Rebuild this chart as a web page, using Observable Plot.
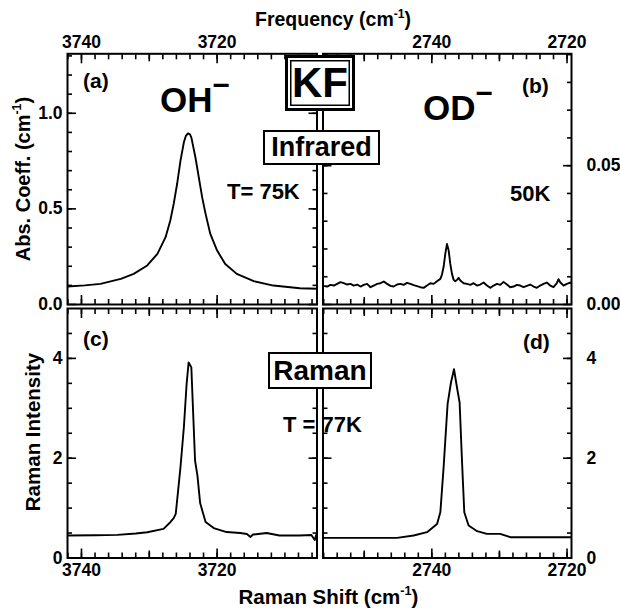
<!DOCTYPE html>
<html><head><meta charset="utf-8">
<script src="https://cdn.jsdelivr.net/npm/d3@7"></script>
<script src="https://cdn.jsdelivr.net/npm/@observablehq/plot@0.6"></script>
<style>
body{margin:0;background:#fff;}
#chart{position:relative;width:620px;height:609px;overflow:hidden;font-family:"Liberation Sans",Arial,sans-serif;font-weight:bold;color:#000;background:#fff;}
#chart svg{position:absolute;left:0;top:0;}
.t{position:absolute;line-height:1;white-space:nowrap;}
.sup{font-size:0.62em;position:relative;top:-0.7em;}
.box{position:absolute;background:#fff;display:flex;align-items:center;justify-content:center;box-sizing:border-box;line-height:1;border:2px solid #000;}
.kf{border:3px solid #000;box-shadow:inset 0 0 0 2px #fff, inset 0 0 0 3.5px #000;}
</style></head><body><div id="chart"></div>
<script>
// ---------- data ----------
// (a) OH- infrared absorption, KF, T = 75 K
const ohIrShift = [3742.06, 3739.5, 3737.2, 3734.2, 3732.3, 3730.3, 3728.8, 3727.6, 3726.9, 3726.4, 3725.9, 3725.4, 3724.9, 3724.6, 3724.3, 3724.0, 3723.8, 3723.2, 3722.7, 3722.2, 3721.7, 3721.0, 3720.0, 3718.8, 3717.1, 3714.6, 3711.7, 3707.8, 3705.3];
const ohIrAbs = [0.094, 0.100, 0.108, 0.134, 0.160, 0.204, 0.265, 0.352, 0.439, 0.526, 0.630, 0.752, 0.848, 0.882, 0.895, 0.890, 0.874, 0.770, 0.665, 0.560, 0.474, 0.369, 0.282, 0.212, 0.160, 0.122, 0.099, 0.085, 0.082];
// (b) OD- infrared absorption, 50 K
const odIrShift = [2756.47, 2755.98, 2755.49, 2754.99, 2754.50, 2754.01, 2753.52, 2753.02, 2752.53, 2752.04, 2751.55, 2751.05, 2750.56, 2750.07, 2749.58, 2749.08, 2748.59, 2748.10, 2747.61, 2747.11, 2746.62, 2746.13, 2745.64, 2745.14, 2744.65, 2744.16, 2743.67, 2743.18, 2742.68, 2742.19, 2741.70, 2741.21, 2740.71, 2740.22, 2739.73, 2739.24, 2738.74, 2738.50, 2738.25, 2738.01, 2737.76, 2737.51, 2737.27, 2737.02, 2736.77, 2736.53, 2736.28, 2736.04, 2735.79, 2735.30, 2734.80, 2734.31, 2733.82, 2733.33, 2732.83, 2732.34, 2731.85, 2731.36, 2730.86, 2730.37, 2729.88, 2729.39, 2728.90, 2728.40, 2727.91, 2727.42, 2726.93, 2726.43, 2725.94, 2725.45, 2724.96, 2724.46, 2723.97, 2723.48, 2722.99, 2722.49, 2722.00, 2721.51, 2721.26, 2721.02, 2720.52, 2720.03, 2719.54, 2719.05];
const odIrAbs = [0.00707, 0.00672, 0.00647, 0.00707, 0.00683, 0.00743, 0.00803, 0.00767, 0.00719, 0.00743, 0.00683, 0.00719, 0.00647, 0.00707, 0.00743, 0.00623, 0.00683, 0.00743, 0.00767, 0.00827, 0.00743, 0.00672, 0.00647, 0.00719, 0.00743, 0.00707, 0.00779, 0.00743, 0.00695, 0.00659, 0.00623, 0.00600, 0.00683, 0.00767, 0.00743, 0.00839, 0.00923, 0.01079, 0.01367, 0.01823, 0.02182, 0.01942, 0.01463, 0.01103, 0.00887, 0.00839, 0.00887, 0.00959, 0.00863, 0.00767, 0.00743, 0.00707, 0.00767, 0.00683, 0.00719, 0.00791, 0.00683, 0.00600, 0.00683, 0.00743, 0.00707, 0.00815, 0.00719, 0.00623, 0.00647, 0.00707, 0.00683, 0.00623, 0.00672, 0.00719, 0.00647, 0.00600, 0.00683, 0.00743, 0.00791, 0.00683, 0.00623, 0.00767, 0.00911, 0.00803, 0.00683, 0.00743, 0.00791, 0.00719];
// (c) OH- Raman, T = 77 K
const ohRamanShift = [3742.1, 3738.0, 3734.7, 3732.0, 3730.3, 3727.9, 3726.9, 3726.4, 3726.1, 3725.9, 3725.4, 3724.9, 3724.5, 3724.2, 3723.8, 3723.25, 3722.9, 3722.5, 3721.7, 3720.5, 3718.6, 3716.6, 3715.6, 3715.1, 3714.7, 3712.7, 3710.8, 3707.8, 3706.1, 3705.6, 3705.3];
const ohRamanInt = [0.45, 0.455, 0.463, 0.49, 0.517, 0.583, 0.717, 0.80, 0.883, 1.15, 1.82, 2.62, 3.48, 3.92, 3.82, 1.95, 1.65, 1.10, 0.72, 0.60, 0.52, 0.50, 0.48, 0.42, 0.47, 0.50, 0.45, 0.45, 0.46, 0.36, 0.50];
// (d) OD- Raman
const odRamanShift = [2756.47, 2745.14, 2742.69, 2740.71, 2739.23, 2738.74, 2738.26, 2737.67, 2737.17, 2736.72, 2736.28, 2735.89, 2735.54, 2735.2, 2734.56, 2733.3, 2731.85, 2729.9, 2728.4, 2719.05];
const odRamanInt = [0.403, 0.403, 0.45, 0.517, 0.683, 0.917, 1.817, 3.083, 3.517, 3.783, 3.417, 3.117, 1.95, 0.917, 0.65, 0.537, 0.483, 0.483, 0.417, 0.417];

// tick labels
const ohTickLabels = [3740, 3720];
const odTickLabels = [2740, 2720];
const ohMidTicks = [3730];
const odMidTicks = [2750, 2730];
const absTickLabels = [0, 0.5, 1.0];
const absOdTickLabels = [0, 0.05];
const ramanTickLabels = [0, 2, 4];

// ---------- layout ----------
const W = 620, H = 609;
const chart = document.getElementById("chart");
const colL = [67, 316.5], colR = [322.5, 571];
const rowT = [53.3, 304], rowB = [308, 557.5];

function tickPair(dim, vals, size) {
  const sw = 1.6;
  if (dim === "x") return [
    Plot.axisX(vals, {anchor: "top", tickSize: size, dy: size, fill: "none", label: null, strokeWidth: sw}),
    Plot.axisX(vals, {anchor: "bottom", tickSize: size, dy: -size, fill: "none", label: null, strokeWidth: sw})
  ];
  return [
    Plot.axisY(vals, {anchor: "left", tickSize: size, dx: size, fill: "none", label: null, strokeWidth: sw}),
    Plot.axisY(vals, {anchor: "right", tickSize: size, dx: -size, fill: "none", label: null, strokeWidth: sw})
  ];
}

function panel(o) {
  const data = o.x.map((v, i) => ({x: v, y: o.y[i]}));
  const marks = [
    ...tickPair("x", o.xMinor, 5),
    ...tickPair("x", o.xMid, 7),
    ...tickPair("x", o.xMajor, 9),
    ...tickPair("y", o.yMinor, 5),
    ...tickPair("y", o.yMajor, 9),
    Plot.axisX(o.xMajor, {anchor: o.xAnchor, tickSize: 0, tickPadding: 6, label: null, tickFormat: d3.format("d")}),
    Plot.axisY(o.yMajor, {anchor: o.yAnchor, tickSize: 0, tickPadding: o.yAnchor === "left" ? 5 : 15, label: null, tickFormat: o.yFormat,
      textAnchor: o.yAnchor === "left" ? "end" : "start"}),
    Plot.line(data, {x: "x", y: "y", stroke: "black", strokeWidth: 1.9, clip: true}),
    Plot.frame({stroke: "black", strokeWidth: 2})
  ];
  const svg = Plot.plot({
    width: W, height: H,
    marginLeft: o.col[0], marginRight: W - o.col[1],
    marginTop: o.row[0], marginBottom: H - o.row[1],
    x: {domain: o.xDomain},
    y: {domain: o.yDomain},
    style: {background: "transparent", fontSize: "17.5px", fontFamily: "'Liberation Sans', Arial, sans-serif", fontWeight: "bold", color: "black", overflow: "visible"},
    marks
  });
  chart.appendChild(svg);
}

const ohDomain = [3742.06, 3705.27];
const odDomain = [2756.1, 2719.34];
const ohMinor = d3.range(3706, 3743, 2);
const odMinor = d3.range(2720, 2757, 2);

panel({x: ohIrShift, y: ohIrAbs, col: colL, row: rowT, xDomain: ohDomain, yDomain: [0, 1.311],
  xMinor: ohMinor, xMid: ohMidTicks, xMajor: ohTickLabels, xAnchor: "top",
  yMinor: d3.range(1, 14).map(d => d / 10), yMajor: absTickLabels, yAnchor: "left", yFormat: d3.format(".1f")});
panel({x: odIrShift, y: odIrAbs, col: colR, row: rowT, xDomain: odDomain, yDomain: [0, 0.0903],
  xMinor: odMinor, xMid: odMidTicks, xMajor: odTickLabels, xAnchor: "top",
  yMinor: d3.range(1, 10).map(d => d / 100), yMajor: absOdTickLabels, yAnchor: "right", yFormat: d3.format(".2f")});
panel({x: ohRamanShift, y: ohRamanInt, col: colL, row: rowB, xDomain: ohDomain, yDomain: [0, 5],
  xMinor: ohMinor, xMid: ohMidTicks, xMajor: ohTickLabels, xAnchor: "bottom",
  yMinor: d3.range(1, 10).map(d => d / 2), yMajor: ramanTickLabels, yAnchor: "left", yFormat: d3.format("d")});
panel({x: odRamanShift, y: odRamanInt, col: colR, row: rowB, xDomain: odDomain, yDomain: [0, 5],
  xMinor: odMinor, xMid: odMidTicks, xMajor: odTickLabels, xAnchor: "bottom",
  yMinor: d3.range(1, 10).map(d => d / 2), yMajor: ramanTickLabels, yAnchor: "right", yFormat: d3.format("d")});

// ---------- annotations ----------
function text(html, left, baseline, size, opts = {}) {
  const d = document.createElement("div");
  d.className = "t";
  d.style.fontSize = size + "px";
  d.style.top = (baseline - 0.847 * size) + "px";
  d.style.left = left + "px";
  if (opts.center) d.style.transform = "translateX(-50%)";
  d.innerHTML = html;
  chart.appendChild(d);
  return d;
}
function vtext(html, cx, cy, size) {
  const d = document.createElement("div");
  d.className = "t";
  d.style.fontSize = size + "px";
  d.style.left = cx + "px";
  d.style.top = cy + "px";
  d.style.transform = "translate(-50%,-50%) rotate(-90deg)";
  d.innerHTML = html;
  chart.appendChild(d);
}
function box(html, left, top, w, h, size, cls = "") {
  const d = document.createElement("div");
  d.className = "box " + cls;
  Object.assign(d.style, {left: left + "px", top: top + "px", width: w + "px", height: h + "px", fontSize: size + "px"});
  d.innerHTML = html;
  chart.appendChild(d);
}
const cm1 = '(cm<span class="sup">-1</span>)';
const minus = '<span style="font-size:0.85em;position:relative;top:-0.57em;">\u2212</span>';

text("Frequency " + cm1, 333, 27, 19.5, {center: true});
text("Raman Shift " + cm1, 328.5, 604, 20.5, {center: true});
vtext("Abs. Coeff. " + cm1, 22.5, 178.5, 20);
vtext("Raman Intensity", 33.3, 432, 20.5);

text("(a)", 83, 87.5, 21);
text("OH" + minus, 160, 112, 35);
text("T= 75K", 227, 200, 22);
text("(b)", 522, 92.6, 21);
text("OD" + minus, 423, 120, 35);
text("50K", 510, 202, 22);
text("(c)", 83, 345.6, 21);
text("T = 77K", 283, 433, 22);
text("(d)", 523, 348.6, 21);

box("KF", 285, 54.5, 70, 56.5, 42, "kf");
box("Infrared", 263, 130, 117, 35, 27);
box("Raman", 268, 352, 104, 37, 28);
</script></body></html>
